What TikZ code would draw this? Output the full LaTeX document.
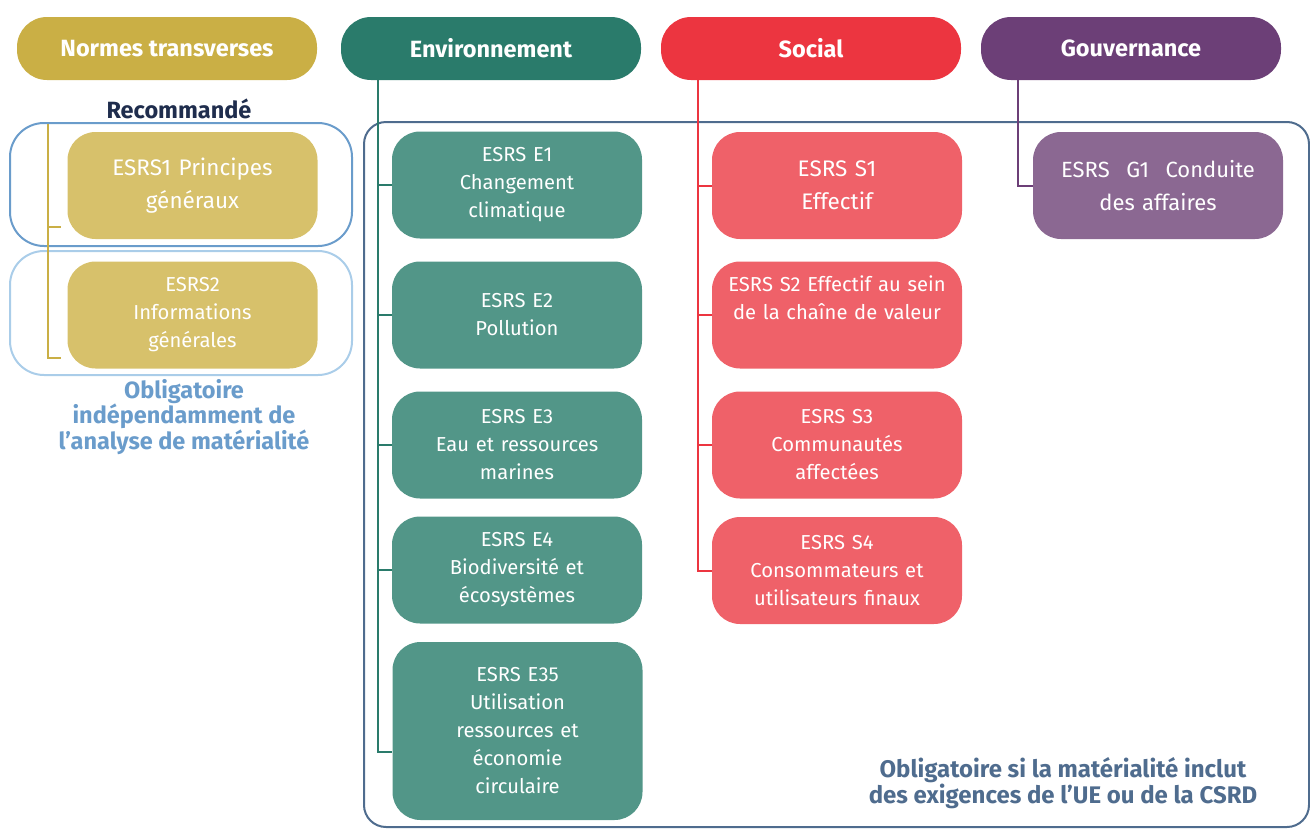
\documentclass[tikz,border=0pt]{standalone}
\usepackage{fontspec}
\setmainfont{Fira Sans}
\definecolor{goldHead}{HTML}{CAAF45}
\definecolor{goldBox}{HTML}{D7C16B}
\definecolor{envHead}{HTML}{2A7B6B}
\definecolor{envBox}{HTML}{529688}
\definecolor{socHead}{HTML}{EC3540}
\definecolor{socBox}{HTML}{EF6169}
\definecolor{govHead}{HTML}{6C3F77}
\definecolor{govBox}{HTML}{8B6892}
\definecolor{midBlue}{HTML}{6A9CCB}
\definecolor{paleBlue}{HTML}{AACDE9}
\definecolor{slate}{HTML}{4F6C8E}
\definecolor{navy}{HTML}{1F2D4D}
\begin{document}
\begin{tikzpicture}[x=1pt,y=-1pt,
  head/.style={rounded corners=30pt, minimum width=300pt, minimum height=63pt,
    inner sep=0pt, text=white, font=\bfseries\fontsize{23.5}{28}\selectfont},
  item/.style={rounded corners=28pt, minimum width=250pt, minimum height=107pt,
    inner sep=0pt, text=white, align=center, text width=244pt,
    font=\fontsize{20.2}{28}\selectfont},
  bigitem/.style={item, font=\fontsize{22.5}{33}\selectfont},
  link/.style={line width=2pt},
  frame/.style={line width=2pt, rounded corners=#1},
  frame/.default=34pt
]
\useasboundingbox (0,0) rectangle (1310,828);

% framing outlines
\draw[frame, midBlue] (10,123) rectangle (352,246);
\draw[frame, paleBlue] (10,251) rectangle (352,375);
\draw[frame=22pt, slate] (364,122) rectangle (1309,827);

% column headers
\node[head, fill=goldHead] (hNorm) at (167,48.5) {Normes transverses};
\node[head, fill=envHead] (hEnv) at (491,48.5) {Environnement};
\node[head, fill=socHead] (hSoc) at (811,48.5) {Social};
\node[head, fill=govHead] (hGov) at (1131,48.5) {Gouvernance};

% connector anchors
\coordinate (normTop) at (48,124);
\coordinate (envTop) at (378,80);
\coordinate (socTop) at (698,80);
\coordinate (govTop) at (1018,80);

% cross-cutting standards
\node[bigitem, fill=goldBox] (t1) at (192.5,185.5) {ESRS1 Principes\\généraux};
\node[item, fill=goldBox] (t2) at (192.5,315) {ESRS2\\Informations\\générales};

% environment
\node[item, fill=envBox] (e1) at (517,185) {ESRS E1\\Changement\\climatique};
\node[item, fill=envBox] (e2) at (517,315) {ESRS E2\\Pollution};
\node[item, fill=envBox] (e3) at (517,445) {ESRS E3\\Eau et ressources\\marines};
\node[item, fill=envBox] (e4) at (517,570) {ESRS E4\\Biodiversité et\\écosystèmes};
\node[item, fill=envBox, minimum height=178pt] (e5) at (517.5,731)
  {ESRS E35\\Utilisation\\ressources et\\économie\\circulaire};

% social
\node[bigitem, fill=socBox] (s1) at (837,185.5) {ESRS S1\\Effectif};
\node[item, fill=socBox] (s2) at (837,315) {ESRS S2 Effectif au sein\\de la chaîne de valeur\\[-2pt]\strut};
\node[item, fill=socBox] (s3) at (837,445) {ESRS S3\\Communautés\\affectées};
\node[item, fill=socBox] (s4) at (837,570.5) {ESRS S4\\Consommateurs et\\utilisateurs finaux};

% governance
\node[bigitem, fill=govBox, font=\fontsize{22}{33}\selectfont] (g1) at (1158,185.5)
  {ESRS\hspace{0.75em}G1\hspace{0.75em}Conduite\\des affaires};

% branch lines
\draw[link, goldHead] (normTop) |- ([xshift=-6pt,yshift=-41.5pt]t1.west);
\draw[link, goldHead] (normTop) |- ([xshift=-6pt,yshift=-43pt]t2.west);
\foreach \n in {e1,e2,e3,e4}{\draw[link, envHead] (envTop) |- (\n.west);}
\draw[link, envHead] (envTop) |- ([yshift=-21pt]e5.west);
\foreach \n in {s1,s2,s3,s4}{\draw[link, socHead] (socTop) |- (\n.west);}
\draw[link, govHead] (govTop) |- (g1.west);

% captions
\node[text=navy, font=\bfseries\fontsize{23.5}{28}\selectfont] (rec) at (179,109) {Recommandé};
\node[text=midBlue, align=center, font=\bfseries\fontsize{23.5}{23}\selectfont] (oblig) at (184,417)
  {Obligatoire\\indépendamment de\\l’analyse de matérialité};
\node[text=slate, align=center, font=\bfseries\fontsize{24}{24}\selectfont] (obligSi) at (1063,783)
  {Obligatoire si la matérialité inclut\\des exigences de l’UE ou de la CSRD};
\end{tikzpicture}
\end{document}
